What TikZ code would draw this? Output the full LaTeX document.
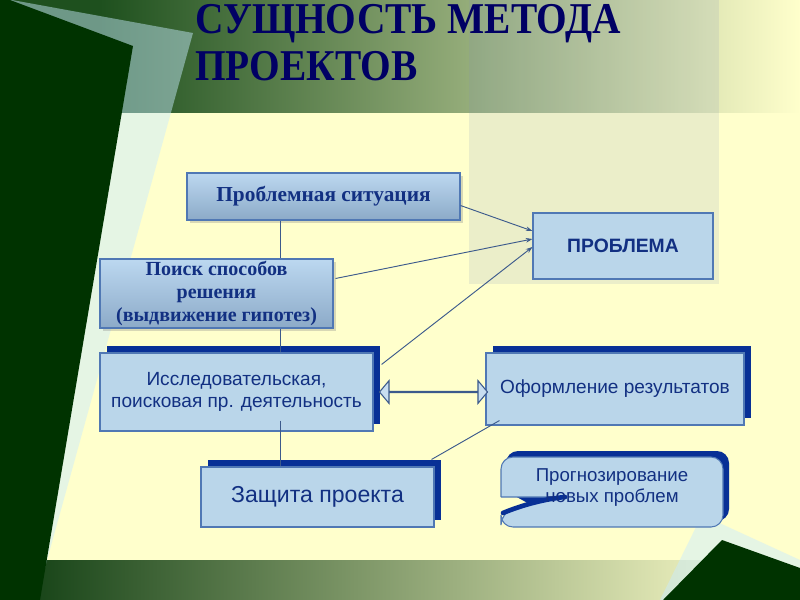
\documentclass[tikz,border=0pt]{standalone}
\usepackage{fontspec}
\setmainfont{Liberation Serif}
\setsansfont{Liberation Sans}
\usepackage{graphicx}
\usetikzlibrary{shapes.arrows,shadows,arrows.meta,calc}
\definecolor{bgyellow}{RGB}{255,255,204}
\definecolor{darkgreen}{RGB}{0,51,0}
\definecolor{bandgreen}{RGB}{30,80,30}
\definecolor{bandgreenb}{RGB}{26,70,26}
\definecolor{columngray}{RGB}{125,145,189}
\definecolor{paleteal}{RGB}{200,235,255}
\definecolor{titlenavy}{RGB}{0,0,100}
\definecolor{textnavy}{RGB}{18,48,130}
\definecolor{boxfill}{RGB}{186,214,234}
\definecolor{boxborder}{RGB}{80,120,180}
\definecolor{gradtop}{RGB}{188,216,240}
\definecolor{gradbot}{RGB}{140,170,200}
\definecolor{shadowblue}{RGB}{8,48,150}
\definecolor{linecol}{RGB}{60,90,140}
\definecolor{arrowfill}{RGB}{200,222,240}
\begin{document}
\begin{tikzpicture}[x=0.75pt,y=-0.75pt,
  gradbox/.style={draw=boxborder, line width=0.8pt, top color=gradtop, bottom color=gradbot,
    drop shadow={shadow xshift=2pt, shadow yshift=-2pt, opacity=0.3},
    inner sep=0pt, align=center, text=textnavy},
  bluebox/.style={draw=boxborder, line width=0.8pt, fill=boxfill, inner sep=0pt, align=center, text=textnavy},
  blueshadow/.style={general shadow={fill=shadowblue, shadow xshift=5pt, shadow yshift=5pt}},
  conn/.style={draw=linecol, line width=0.7pt},
  connarrow/.style={conn, -{Stealth[length=5pt,width=3.5pt]}},
  titletext/.style={anchor=base west, inner sep=0pt, text=titlenavy,
      font=\bfseries\fontsize{33}{33}\selectfont}
]
\useasboundingbox (0,0) rectangle (800,600);
% background
\fill[bgyellow] (0,0) rectangle (800,600);
\fill[bandgreen] (0,0) rectangle (100,112);
\shade[left color=bandgreen, right color=bgyellow] (100,0) rectangle (800,112);
\fill[bandgreenb] (0,560) rectangle (40,600);
\shade[left color=bandgreenb, right color=bgyellow] (40,560) rectangle (770,600);
\fill[columngray, opacity=0.15] (469,0) rectangle (719,284);
\fill[paleteal, opacity=0.47] (12,0) -- (193,33) -- (36,600) -- (0,600) -- (0,0) -- cycle;
\fill[darkgreen] (0,0) -- (10,0) -- (133,46) -- (40,600) -- (0,600) -- cycle;
\fill[paleteal, opacity=0.47] (702,515) -- (800,560) -- (800,600) -- (660,600) -- cycle;
\fill[darkgreen] (722,540) -- (800,568) -- (800,600) -- (663,600) -- cycle;

% title
\node[titletext] (title1) at (195,33) {\scalebox{0.895}[1]{СУЩНОСТЬ МЕТОДА}};
\node[titletext] (title2) at (195,80) {\scalebox{0.895}[1]{ПРОЕКТОВ}};

% nodes
\node[gradbox, minimum width=204.75pt, minimum height=35.25pt,
      font=\bfseries\fontsize{16}{19}\selectfont] (ps) at (323.5,196.5) {Проблемная ситуация};
\node[gradbox, minimum width=174.75pt, minimum height=51.75pt,
      font=\bfseries\fontsize{15}{17.25}\selectfont] (poisk) at (216.5,293.5)
  {Поиск способов\\решения\\(выдвижение гипотез)};
\node[bluebox, minimum width=135pt, minimum height=49.5pt,
      font=\sffamily\bfseries\fontsize{14.5}{17}\selectfont] (prob) at (623,246) {ПРОБЛЕМА};
\node[bluebox, blueshadow, minimum width=204.75pt, minimum height=58.5pt,
      font=\sffamily\fontsize{14.3}{16.5}\selectfont] (issl) at (236.5,392)
  {Исследовательская,\\поисковая пр. деятельность};
\node[bluebox, blueshadow, minimum width=193.5pt, minimum height=54pt,
      font=\sffamily\fontsize{14.3}{16.5}\selectfont] (oform) at (615,389) {Оформление результатов};
\node[bluebox, blueshadow, minimum width=174.75pt, minimum height=45pt,
      font=\sffamily\fontsize{17.3}{19}\selectfont] (zash) at (317.5,497) {Защита проекта};

% forecast shape
\fill[shadowblue, rounded corners=9pt] (506,491) -- (506,451) -- (729,451) -- (729,521) -- (560,521) -- cycle;
\draw[boxborder, line width=0.8pt, fill=boxfill, rounded corners=9pt]
  (501,497) -- (501,457) -- (723,457) -- (723,527) -- (501,527) -- (501,513)
  [sharp corners] .. controls (522,505) and (545,498) .. (566,497) -- (501,497);
\draw[shadowblue, line width=3.5pt, line cap=round] (503,513) .. controls (522,505) and (545,499) .. (565,497);
\node[inner sep=0pt, align=center, text=textnavy, font=\sffamily\fontsize{14}{15.75}\selectfont]
  (progn) at (612,488) {Прогнозирование\\новых проблем};

% connectors
\coordinate (spine) at (280,0);
\draw[conn] (ps.south -| spine) -- (poisk.north -| spine);
\draw[conn] (poisk.south -| spine) -- (issl.north -| spine);
\draw[conn] ($(issl.south -| spine)+(0,-11)$) -- (zash.north -| spine);
\draw[connarrow] ($(ps.east)+(0,9)$) -- ($(prob.west)+(0,-15)$);
\draw[connarrow] ($(poisk.east)+(2,-15)$) -- ($(prob.west)+(0,-7)$);
\draw[connarrow] ($(issl.north east)+(8,12)$) -- ($(prob.west)+(0,1)$);
\draw[conn] ($(oform.south west)+(14,-5)$) -- ($(zash.north east)+(-3,-7)$);
\node[double arrow, draw=linecol, fill=arrowfill, line width=0.8pt, inner sep=0pt,
      minimum height=81pt, minimum width=17pt, double arrow head extend=6pt,
      double arrow tip angle=100] (dbl) at (433.5,392) {};
\end{tikzpicture}
\end{document}
